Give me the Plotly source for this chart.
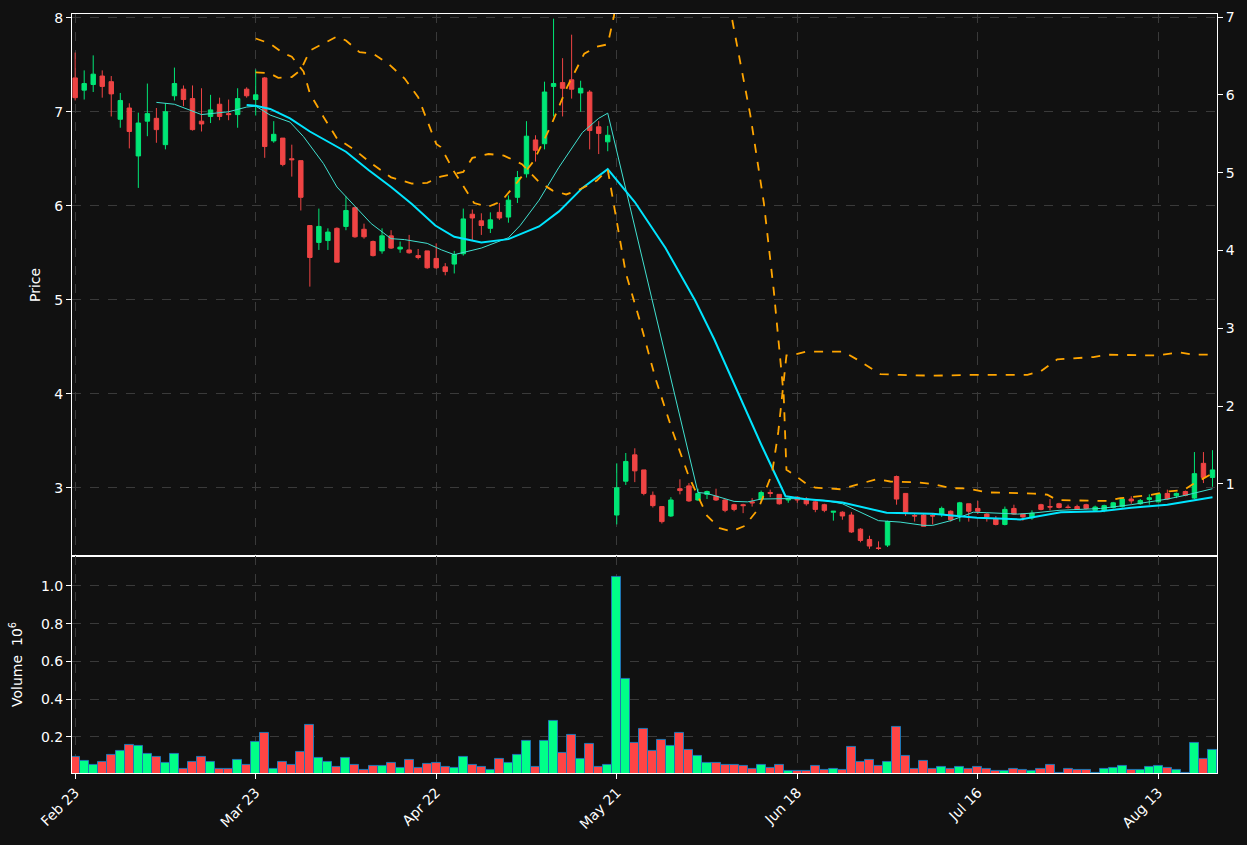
import plotly.graph_objects as go
from plotly.subplots import make_subplots

tick_pos = [0, 20, 40, 60, 80, 100, 120]
tick_text = ["Feb 23", "Mar 23", "Apr 22", "May 21", "Jun 18", "Jul 16", "Aug 13"]

ohlc = [
 (7.36,7.63,7.12,7.15),(7.23,7.44,7.13,7.30),(7.29,7.60,7.21,7.40),(7.38,7.44,7.15,7.27),
 (7.32,7.38,6.95,7.19),(6.92,7.20,6.83,7.12),(7.04,7.09,6.61,6.79),(6.53,6.99,6.19,6.88),
 (6.90,7.30,6.74,6.98),(6.93,7.04,6.67,6.81),(6.65,7.09,6.60,7.00),(7.17,7.47,7.12,7.30),
 (7.24,7.28,7.06,7.13),(7.14,7.28,6.80,6.81),(6.90,7.25,6.79,6.87),(6.95,7.18,6.88,7.02),
 (7.08,7.15,6.91,6.95),(6.98,7.13,6.91,6.97),(6.97,7.25,6.83,7.14),(7.24,7.26,7.15,7.17),
 (7.13,7.45,6.96,7.18),(7.36,7.37,6.51,6.63),(6.69,6.90,6.67,6.76),(6.72,6.72,6.42,6.44),
 (6.50,6.65,6.31,6.49),(6.48,6.48,5.95,6.09),(5.79,5.79,5.14,5.45),(5.61,5.97,5.53,5.78),
 (5.63,5.76,5.53,5.72),(5.76,5.77,5.40,5.40),(5.78,6.10,5.74,5.95),(5.98,5.99,5.66,5.67),
 (5.75,5.81,5.65,5.67),(5.62,5.63,5.46,5.47),(5.52,5.76,5.49,5.68),(5.68,5.74,5.54,5.55),
 (5.54,5.62,5.50,5.56),(5.53,5.69,5.49,5.50),(5.47,5.54,5.43,5.45),(5.52,5.52,5.33,5.34),
 (5.44,5.60,5.33,5.34),(5.35,5.39,5.26,5.30),(5.38,5.52,5.28,5.48),(5.49,5.97,5.47,5.86),
 (5.91,5.96,5.63,5.87),(5.84,5.92,5.69,5.79),(5.76,5.93,5.71,5.85),(5.93,6.03,5.85,5.87),
 (5.88,6.11,5.82,6.06),(6.09,6.37,6.03,6.30),(6.34,6.90,6.30,6.74),(6.70,6.75,6.47,6.59),
 (6.66,7.32,6.60,7.21),(7.27,7.99,6.95,7.30),(7.31,7.57,6.95,7.25),(7.34,7.82,7.14,7.24),
 (7.20,7.33,7.00,7.25),(7.21,7.23,6.60,6.80),(6.84,6.90,6.55,6.77),(6.68,6.85,6.58,6.75),
 (2.71,3.26,2.61,3.00),(3.07,3.37,3.03,3.28),(3.35,3.42,3.06,3.18),(3.19,3.19,2.92,2.94),
 (2.92,2.96,2.79,2.81),(2.80,2.80,2.62,2.64),(2.70,2.90,2.69,2.87),(2.99,3.09,2.93,2.97),
 (3.02,3.05,2.85,2.86),(2.87,2.99,2.86,2.94),(2.93,2.97,2.88,2.96),(2.91,2.99,2.86,2.87),
 (2.87,2.88,2.74,2.76),(2.82,2.83,2.75,2.77),(2.82,2.83,2.73,2.81),(2.85,2.89,2.80,2.84),
 (2.88,2.97,2.85,2.95),(2.95,2.98,2.90,2.94),(2.93,2.93,2.82,2.83),(2.87,2.89,2.84,2.88),
 (2.90,2.91,2.84,2.87),(2.88,2.90,2.81,2.83),(2.85,2.86,2.74,2.77),(2.82,2.83,2.74,2.76),
 (2.74,2.75,2.65,2.75),(2.74,2.75,2.66,2.70),(2.71,2.74,2.52,2.53),(2.56,2.57,2.42,2.44),
 (2.45,2.49,2.35,2.38),(2.36,2.43,2.34,2.355),(2.39,2.65,2.37,2.64),(3.12,3.13,2.82,2.88),
 (2.94,2.94,2.70,2.74),(2.705,2.73,2.64,2.70),(2.71,2.73,2.59,2.59),(2.705,2.73,2.61,2.70),
 (2.72,2.80,2.69,2.78),(2.75,2.76,2.64,2.66),(2.71,2.85,2.64,2.84),(2.83,2.83,2.64,2.75),
 (2.78,2.86,2.72,2.75),(2.72,2.73,2.64,2.69),(2.67,2.70,2.60,2.61),(2.61,2.80,2.60,2.77),
 (2.78,2.82,2.71,2.72),(2.72,2.72,2.65,2.69),(2.68,2.76,2.66,2.73),(2.82,2.83,2.76,2.77),
 (2.80,2.88,2.76,2.795),(2.83,2.84,2.78,2.79),(2.795,2.82,2.78,2.79),(2.80,2.82,2.77,2.77),
 (2.82,2.83,2.77,2.78),(2.76,2.81,2.75,2.795),(2.76,2.82,2.74,2.81),(2.79,2.85,2.78,2.84),
 (2.80,2.89,2.79,2.88),(2.88,2.91,2.83,2.86),(2.83,2.88,2.82,2.865),(2.876,2.93,2.82,2.894),
 (2.85,2.94,2.85,2.936),(2.94,2.98,2.87,2.88),(2.915,2.95,2.89,2.94),(2.96,2.97,2.91,2.92),
 (2.89,3.38,2.88,3.15),(3.26,3.38,3.05,3.11),(3.11,3.40,3.01,3.19),
]
opens = [r[0] for r in ohlc]
highs = [r[1] for r in ohlc]
lows = [r[2] for r in ohlc]
closes = [r[3] for r in ohlc]

volumes = [0.094,0.073,0.052,0.068,0.105,0.126,0.158,0.152,0.11,0.094,0.062,0.11,0.03,0.068,0.094,0.068,
 0.03,0.03,0.078,0.052,0.174,0.22,0.03,0.068,0.052,0.12,0.264,0.089,0.068,0.04,0.089,0.052,0.025,0.046,
 0.046,0.062,0.036,0.078,0.036,0.057,0.062,0.04,0.036,0.094,0.052,0.04,0.025,0.084,0.062,0.105,0.18,0.04,
 0.18,0.286,0.115,0.21,0.084,0.165,0.04,0.052,1.05,0.51,0.17,0.245,0.126,0.185,0.152,0.22,0.13,0.1,
 0.062,0.062,0.052,0.052,0.046,0.03,0.052,
 0.034,0.05,0.022,0.022,0.018,0.045,0.025,0.03,0.025,0.145,0.066,0.077,0.045,0.066,0.251,0.098,0.03,
 0.071,0.03,0.04,0.03,0.04,0.03,0.04,0.03,0.018,0.018,0.03,0.025,0.018,0.03,0.05,0.012,0.03,0.025,0.025,
 0.012,0.03,0.034,0.045,0.025,0.025,0.04,0.045,0.034,0.025,0.012,0.167,0.082,0.132]

ma_fast_x = [9,11,14,17,19,20,21.6,23.8,25.3,27.5,29,31,32.8,35,36.5,39,40.6,42,45,48,49.3,51.4,53.6,56.2,
 58,59,69,70,73,74.5,76,79,80.3,83,85,89,91.4,94,95,97,99.5,101,104.4,106,109,113.6,117,121,123,126]
ma_fast_y = [7.10,7.08,6.97,7.00,7.05,7.06,6.965,6.89,6.735,6.45,6.2,5.99,5.81,5.65,5.64,5.6,5.53,5.48,5.55,
 5.66,5.79,6.06,6.41,6.78,6.93,6.985,2.95,2.94,2.855,2.85,2.88,2.885,2.883,2.866,2.83,2.65,2.635,2.6,2.6,
 2.65,2.74,2.735,2.72,2.73,2.76,2.78,2.82,2.88,2.92,2.99]

ma_slow_x = [19,20,21.6,23.8,26,29,30,32.5,35,37.3,39.9,42,45,48,51.4,53.6,56.2,59,62,65.4,68.7,70.8,73.4,
 76,78.7,80.8,83.4,85,89.9,95,99.9,104.7,109.2,113.6,117,121,126]
ma_slow_y = [7.072,7.065,7.03,6.93,6.79,6.63,6.575,6.38,6.2,6.02,5.79,5.67,5.61,5.645,5.78,5.94,6.19,6.39,
 6.04,5.55,4.99,4.58,4.02,3.46,2.91,2.88,2.86,2.844,2.734,2.723,2.68,2.663,2.74,2.75,2.787,2.82,2.90]

band_a_x = [20,21.6,23,24,25.3,26,27.5,29,31,32.8,35,37.3,39,40.5,43,44,45.8,47.5,49.5,51.4,52.9,54.4,56,
 57.8,59,60,61,62.5,64.3,66.2,68,70,71.4,72.7,74.2,75.7,77.2,77.9,78.5,78.8,79.3,81,83.4,85.1,86.6,89.2,
 91.4,95.1,98.8,102.5,105.5,107,108.8,112.8,114.3,119.9,122.4,123.9,125.8]
band_a_y = [6.725,6.66,6.54,6.49,6.30,6.02,5.72,5.44,5.29,5.12,4.94,4.86,4.87,4.95,5.01,5.19,5.24,5.22,5.11,
 4.88,4.77,4.72,4.79,4.9,5.04,4.38,3.71,3.12,2.35,1.67,1.09,0.59,0.43,0.39,0.46,0.68,1.13,1.67,2.35,2.65,
 2.65,2.70,2.70,2.70,2.60,2.41,2.40,2.39,2.40,2.40,2.40,2.45,2.60,2.63,2.66,2.65,2.69,2.66,2.66]

band_b_x = [20,21.5,22.5,24,25,26,27.5,29,30,31.5,33,34.7,36.5,38,39,40,40.5,42,44.2,45.7,47.2,49,50.8,52.7,
 54.5,56.4,57.8,59,59.7,61,71,72.7,74.8,76.3,77.4,78.1,78.5,78.8,79.5,81,82,84.8,87.7,88.8,90.3,93.3,
 95.1,97,98.8,101,106.2,107.7,108.8,111.7,114.3,115.8,119.1,120.9,122.8,123.9,125.8]
band_b_y = [6.29,6.28,6.22,6.23,6.32,6.57,6.66,6.75,6.70,6.55,6.53,6.4,6.21,5.97,5.67,5.37,5.33,5.01,4.61,
 4.56,4.63,4.88,5.15,5.6,6.1,6.53,6.62,6.65,7.02,9.5,9.5,7.02,5.74,4.61,3.48,2.58,2.13,1.18,1.13,1.0,0.95,
 0.93,1.025,1.06,1.03,1.02,0.995,0.944,0.94,0.89,0.875,0.86,0.79,0.78,0.78,0.815,0.855,0.90,0.92,1.0,1.12]

GREEN = "#00e676"
RED = "#ef4444"
idx = list(range(len(closes)))
vol_colors = ["#00ff88" if c >= o else "#ff4545" for o, c in zip(opens, closes)]

fig = make_subplots(rows=2, cols=1, shared_xaxes=True, vertical_spacing=0.0,
                    row_heights=[0.714, 0.286], specs=[[{"secondary_y": True}], [{}]])

fig.add_trace(go.Candlestick(x=idx, open=opens, high=highs, low=lows, close=closes,
    increasing=dict(line=dict(color=GREEN, width=1), fillcolor=GREEN),
    decreasing=dict(line=dict(color=RED, width=1), fillcolor=RED),
    whiskerwidth=0, showlegend=False), row=1, col=1)
fig.add_trace(go.Scatter(x=ma_fast_x, y=ma_fast_y, mode="lines",
    line=dict(color="#40e0d0", width=1), showlegend=False), row=1, col=1)
fig.add_trace(go.Scatter(x=ma_slow_x, y=ma_slow_y, mode="lines",
    line=dict(color="#00e5ff", width=2), showlegend=False), row=1, col=1)
fig.add_trace(go.Scatter(x=band_a_x, y=band_a_y, mode="lines",
    line=dict(color="#ffa500", width=1.8, dash="dash"), showlegend=False),
    row=1, col=1, secondary_y=True)
fig.add_trace(go.Scatter(x=band_b_x, y=band_b_y, mode="lines",
    line=dict(color="#ffa500", width=1.8, dash="dash"), showlegend=False),
    row=1, col=1, secondary_y=True)
fig.add_trace(go.Bar(x=idx, y=volumes, marker=dict(color=vol_colors, line=dict(color="#1f77b4", width=1)),
    width=1.0, showlegend=False), row=2, col=1)

axis_common = dict(showline=True, linecolor="white", linewidth=1, mirror=True, automargin=False,
                   gridcolor="#3a3a3a", griddash="dash", zeroline=False,
                   ticks="outside", tickcolor="white", tickfont=dict(color="white", size=14))
fig.update_xaxes(**axis_common, domain=[0, 1], range=[-0.35, 126.5], tickvals=tick_pos, ticktext=tick_text,
                 rangeslider_visible=False)
fig.update_xaxes(tickangle=-45, row=2, col=1)
fig.update_yaxes(**axis_common)
fig.update_yaxes(range=[2.275, 8.04], tickvals=[3, 4, 5, 6, 7, 8], row=1, col=1, secondary_y=False,
                 title=dict(text="Price", font=dict(color="white", size=14), standoff=10))
fig.update_yaxes(range=[0.073, 7.04], tickvals=[1, 2, 3, 4, 5, 6, 7], showgrid=False,
                 row=1, col=1, secondary_y=True)
fig.update_yaxes(range=[0.009, 1.159], tickvals=[0.2, 0.4, 0.6, 0.8, 1.0], tickformat=".1f",
                 row=2, col=1, title=dict(text="Volume  10<sup>6</sup>", font=dict(color="white", size=14)))

fig.update_layout(width=1247, height=845, paper_bgcolor="#111111", plot_bgcolor="#111111",
                  font=dict(family="DejaVu Sans", color="white", size=14),
                  margin=dict(l=72, r=30, t=14, b=72), bargap=0)
fig.write_html("out.html", config={"displayModeBar": False},
               post_script="document.body.style.margin='0';document.body.style.background='#111111';")
